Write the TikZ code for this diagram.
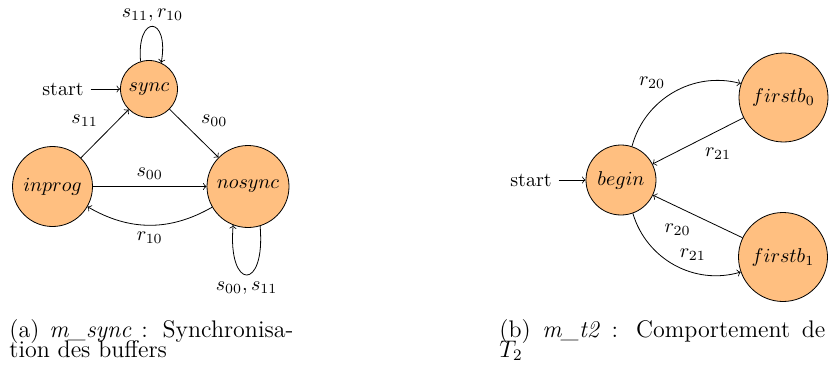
\documentclass[tikz,border=0pt]{standalone}
\begin{document}
\begin{tikzpicture}[x=0.5pt,y=0.5pt,
  stnode/.style={circle,draw,fill=orange!50,inner sep=0pt},
  capfont/.style={font=\fontsize{12}{14}\selectfont},
  captext/.style={capfont,anchor=base west,inner sep=0pt}]
\useasboundingbox (0,0) rectangle (831,376);
% (a)
\node[stnode,minimum size=28.5pt] (sync) at (149,287) {$sync$};
\node[stnode,minimum size=40pt] (inprog) at (52.5,189.5) {$inprog$};
\node[stnode,minimum size=41pt] (nosync) at (248,189.5) {$nosync$};
\node (starta) at (63,287) {start};
\draw[->] (starta) -- (sync);
\draw[->] (sync.107) .. controls +(95:24pt) and +(80:24pt) .. node[above,inner sep=2.5pt] {$s_{11},r_{10}$} (sync.65);
\draw[->] (nosync.-73) .. controls +(-85:33pt) and +(-95:33pt) .. node[below] {$s_{00},s_{11}$} (nosync.-111);
\draw[->] (sync) -- node[above right] {$s_{00}$} (nosync);
\draw[->] (inprog) -- node[above left] {$s_{11}$} (sync);
\draw[->] (inprog) -- node[above] {$s_{00}$} (nosync);
\draw[->] (nosync) to[bend left=30] node[below] {$r_{10}$} (inprog);
% (b)
\node[stnode,minimum size=35pt] (begin) at (621,196) {$begin$};
\node[stnode,minimum size=44.5pt] (fb0) at (783.5,278.5) {$firstb_0$};
\node[stnode,minimum size=44.5pt] (fb1) at (783,119) {$firstb_1$};
\node (startb) at (531,196) {start};
\draw[->] (startb) -- (begin);
\draw[->] (begin) to[bend left=45] node[pos=0.3,above=7pt] {$r_{20}$} (fb0);
\draw[->] (fb0) -- node[below right] {$r_{21}$} (begin);
\draw[->] (fb1) -- node[below left] {$r_{20}$} (begin);
\draw[->] (begin) to[bend right=45] node[pos=0.6,above=1.5pt,xshift=3pt] {$r_{21}$} (fb1);
% captions
\node[captext] (capa1) at (9,38.7) {\makebox[142pt][s]{(a) \textit{m\_sync} : Synchronisa-}};
\node[captext] (capa2) at (9,18.7) {tion des buffers};
\node[captext] (capb1) at (499,38.7) {\makebox[163pt][s]{(b) \textit{m\_t2} : Comportement de}};
\node[captext] (capb2) at (499,18.7) {$T_2$};
\end{tikzpicture}
\end{document}
